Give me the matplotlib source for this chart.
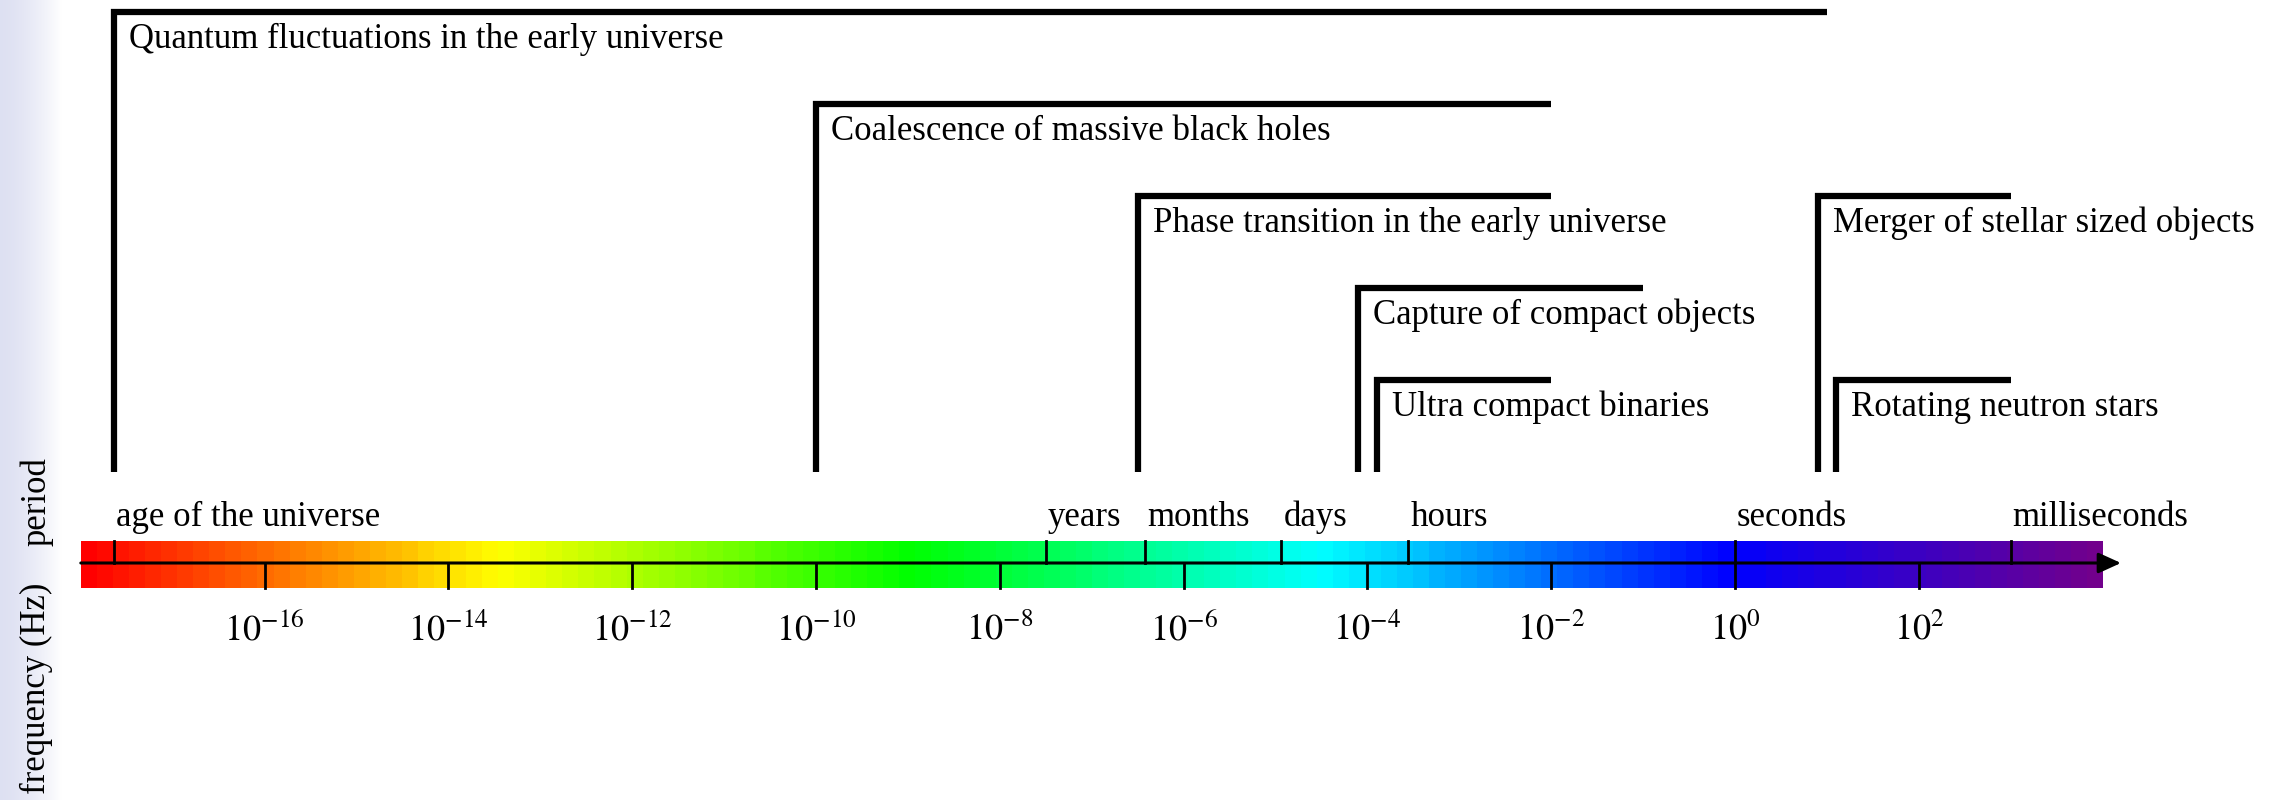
import numpy as np
import matplotlib
matplotlib.use('Agg')
import matplotlib.pyplot as plt
from matplotlib.colors import LinearSegmentedColormap

plt.rcParams['font.family'] = ['Liberation Serif', 'DejaVu Serif']
plt.rcParams['mathtext.fontset'] = 'stix'

# gravitational wave sources: frequency band in log10(Hz), row from the top
sources = ["Quantum fluctuations in the early universe",
           "Coalescence of massive black holes",
           "Phase transition in the early universe",
           "Capture of compact objects",
           "Ultra compact binaries",
           "Merger of stellar sized objects",
           "Rotating neutron stars"]
f_low = [-17.64, -10.0, -6.5, -4.1, -3.9, 0.9, 1.1]
f_high = [1.0, -2.0, -2.0, -1.0, -2.0, 3.0, 3.0]
rows = [0, 1, 2, 3, 4, 2, 4]

# period marks on top of the axis (seconds)
period_names = ["age of the universe", "years", "months", "days",
                "hours", "seconds", "milliseconds"]
period_seconds = [4.35e17, 3.15e7, 2.6e6, 8.64e4, 3.6e3, 1.0, 1e-3]

# frequency marks below the axis (log10 Hz)
freq_exponents = [-16, -14, -12, -10, -8, -6, -4, -2, 0, 2]

axis_start, axis_end = -18.0, 4.0

FS = 25
W, H = 2274, 800
px_per_dec = 91.9
x0_px = 1735  # pixel position of 10^0 Hz

fig = plt.figure(figsize=(W / 100, H / 100), dpi=100)

# soft lavender strip along the left edge
bg = fig.add_axes([0, 0, 62 / W, 1])
grad = np.linspace(0, 1, 64)[None, :, None]
c_left = np.array([0.87, 0.88, 0.95])
c_right = np.array([1.0, 1.0, 1.0])
bg.imshow(c_left + (c_right - c_left) * grad ** 1.6, aspect='auto',
          extent=(0, 1, 0, 1))
bg.axis('off')

ax = fig.add_axes([0, 0, 1, 1])
ax.set_facecolor('none')
ax.set_xlim(-x0_px / px_per_dec, (W - x0_px) / px_per_dec)
ax.set_ylim(H, 0)
ax.axis('off')


def row_y(r):
    return 12 + 92 * r


bottom = 472
lw = 4.5
for name, lo, hi, r in zip(sources, f_low, f_high, rows):
    y = row_y(r)
    ax.plot([lo, lo, hi], [bottom, y, y], color='black', lw=lw,
            solid_joinstyle='miter', solid_capstyle='butt')
    ax.text(lo + 15 / px_per_dec, y + 36, name, fontsize=FS,
            ha='left', va='baseline')

# rainbow bar
cmap = LinearSegmentedColormap.from_list(
    'gw', [(0.0, '#ff0000'), (0.2045, '#ffff00'), (0.409, '#00ff00'),
           (0.6135, '#00ffff'), (0.818, '#0000ff'), (1.0, '#72008c')])
shade = np.linspace(0, 1, 126)[None, :]
bar_top, bar_bot, axis_y = 541, 588, 563
ax.imshow(shade, cmap=cmap, aspect='auto', interpolation='nearest',
          extent=(axis_start, axis_end, bar_bot, bar_top), zorder=1)

ax.annotate('', xy=(4.2, axis_y), xytext=(axis_start, axis_y),
            arrowprops=dict(arrowstyle='-|>,head_length=0.55,head_width=0.25',
                            lw=2.2, color='black', shrinkA=0, shrinkB=0,
                            mutation_scale=25), zorder=3)

for name, T in zip(period_names, period_seconds):
    x = -np.log10(T)
    ax.plot([x, x], [bar_top, axis_y], color='black', lw=2, zorder=3)
    ax.text(x + 2 / px_per_dec, 526, name, fontsize=FS, ha='left', va='baseline')

for e in freq_exponents:
    ax.plot([e, e], [axis_y, bar_bot], color='black', lw=2, zorder=3)
    ax.text(e, 640, r'$10^{%d}$' % e, fontsize=26, ha='center', va='baseline')

# rotated axis captions on the left
fig.text(37 / W, 1 - 502 / H, 'period', rotation=90, fontsize=FS,
         ha='center', va='center')
fig.text(36 / W, 1 - 688 / H, 'frequency (Hz)', rotation=90, fontsize=FS,
         ha='center', va='center')

fig.savefig('out.png', dpi=100)
